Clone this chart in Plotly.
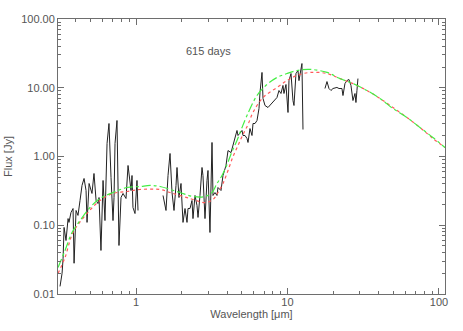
import plotly.graph_objects as go

# Observed spectrum (wavelength in micron, flux in Jy), three segments
opt_wl = [0.315, 0.325, 0.330, 0.335, 0.345, 0.356, 0.361, 0.372, 0.384, 0.390, 0.402, 0.414,
          0.427, 0.440, 0.454, 0.468, 0.475, 0.490, 0.512, 0.528, 0.545, 0.561, 0.570, 0.587,
          0.606, 0.624, 0.644, 0.663, 0.684, 0.705, 0.716, 0.727, 0.749, 0.772, 0.796, 0.821,
          0.859, 0.886, 0.927, 0.941, 0.955, 0.985, 1.015, 1.031]
opt_flux = [0.0129, 0.020, 0.033, 0.093, 0.060, 0.125, 0.110, 0.153, 0.175, 0.028, 0.164, 0.139,
            0.229, 0.379, 0.479, 0.320, 0.110, 0.405, 0.290, 0.566, 0.229, 0.207, 0.253, 0.043,
            0.448, 0.117, 1.55, 3.02, 0.495, 0.117, 0.253, 1.55, 3.34, 0.0508, 0.253, 0.290,
            0.245, 0.740, 0.320, 0.529, 0.181, 0.148, 0.448, 0.164]

ir_wl = [1.508, 1.578, 1.627, 1.677, 1.729, 1.782, 1.837, 1.865, 1.922, 1.982, 2.043, 2.106,
         2.171, 2.204, 2.272, 2.342, 2.378, 2.452, 2.527, 2.566, 2.645, 2.727, 2.768, 2.854,
         2.942, 2.987, 3.079, 3.175, 3.223, 3.322, 3.425, 3.477, 3.640, 3.752, 3.928, 4.049,
         4.239, 4.370, 4.505, 4.642, 4.714, 4.860, 5.010, 5.086, 5.243, 5.405, 5.488, 5.656,
         5.832, 5.921, 6.104, 6.292, 6.486, 6.586, 6.789, 6.893, 7.105, 7.437, 7.666, 7.903,
         8.271, 8.526, 8.789, 9.060, 9.339, 9.483, 9.775, 10.08, 10.23, 10.55, 10.87, 11.04,
         11.38, 11.73, 11.91, 12.28, 12.46, 12.66]
ir_flux = [0.271, 0.164, 0.529, 1.106, 0.299, 0.164, 0.379, 0.692, 0.253, 0.405, 0.110, 0.175,
           0.110, 0.175, 0.175, 0.229, 0.125, 0.271, 0.194, 0.130, 0.271, 0.692, 0.529, 0.125,
           0.448, 0.626, 0.0785, 1.60, 0.271, 0.299, 0.271, 0.354, 0.320, 0.529, 0.740, 1.22,
           1.14, 1.445, 1.89, 2.39, 2.02, 2.16, 2.39, 2.02, 2.02, 1.83, 1.60, 2.55,
           2.02, 3.02, 3.02, 3.34, 4.99, 8.53, 16.7, 6.98, 5.52, 5.16, 5.52, 6.10,
           6.52, 7.21, 9.12, 8.25, 10.8, 8.25, 11.15, 4.37, 12.7, 16.1, 6.52, 5.52,
           16.1, 17.8, 12.7, 19.1, 22.5, 2.47]

fir_wl = [17.68, 18.23, 18.79, 19.37, 19.97, 21.21, 21.88, 22.89, 23.25, 23.96, 24.70, 25.46,
          26.25, 27.06, 27.90, 28.32, 28.75, 29.19]
fir_flux = [9.75, 12.3, 9.75, 9.12, 9.75, 10.1, 9.75, 9.75, 7.71, 11.5, 12.7, 13.2,
            10.8, 6.52, 8.25, 6.10, 9.12, 13.6]

# Model 1 (red dotted)
red_wl = [0.3056, 0.340, 0.384, 0.475, 0.578, 0.705, 0.872, 1.063, 1.440, 1.677, 2.272, 2.854,
          3.223, 3.477, 3.752, 4.049, 4.370, 4.714, 5.086, 5.488, 5.921, 6.893, 8.526, 9.924,
          11.55, 14.08, 18.23, 22.21, 27.06, 33.48, 40.79, 49.71, 61.48, 74.93, 91.28, 109.5]
red_flux = [0.0199, 0.034, 0.0785, 0.148, 0.229, 0.290, 0.31, 0.331, 0.331, 0.299, 0.245, 0.214,
            0.237, 0.299, 0.405, 0.626, 1.0, 1.445, 2.09, 2.92, 4.37, 7.21, 10.1, 12.7,
            15.1, 16.7, 16.1, 13.6, 11.5, 9.12, 6.98, 5.16, 3.69, 2.64, 1.83, 1.35]

# Model 2 (green dash-dot)
grn_wl = [0.3056, 0.340, 0.378, 0.427, 0.497, 0.578, 0.705, 0.872, 1.063, 1.237, 1.440, 1.952,
          2.378, 2.854, 3.175, 3.425, 3.696, 3.988, 4.302, 4.642, 5.010, 5.405, 6.292, 7.324,
          8.526, 9.924, 11.55, 14.08, 18.23, 22.21, 27.06, 33.48, 40.79, 49.71, 61.48, 74.93,
          91.28, 109.5]
grn_flux = [0.0243, 0.043, 0.0785, 0.117, 0.181, 0.245, 0.299, 0.354, 0.366, 0.379, 0.366, 0.299,
            0.262, 0.262, 0.299, 0.405, 0.529, 0.765, 1.18, 1.71, 2.64, 3.95, 7.71, 11.15,
            14.1, 16.1, 17.8, 18.5, 16.7, 13.6, 11.5, 9.12, 6.98, 4.99, 3.69, 2.64,
            1.89, 1.35]

x_tick_vals = [1, 10, 100]
x_tick_text = ["1", "10", "100"]
y_tick_vals = [0.01, 0.1, 1, 10, 100]
y_tick_text = ["0.01", "0.10", "1.00", "10.00", "100.00"]
x_minor_decades = [0.1, 1, 10]
y_minor_decades = [0.01, 0.1, 1, 10]
minor_steps = [2, 3, 4, 5, 6, 7, 8, 9]

label_text = "615 days"
x_title = "Wavelength [μm]"
y_title = "Flux [Jy]"

axis_col = "#6e6e6e"
text_col = "#555555"
font_family = "Liberation Sans, Arial, sans-serif"

fig = go.Figure()
for wl, fl in [(opt_wl, opt_flux), (ir_wl, ir_flux), (fir_wl, fir_flux)]:
    fig.add_trace(go.Scatter(x=wl, y=fl, mode="lines",
                             line=dict(color="#222222", width=1), showlegend=False))
fig.add_trace(go.Scatter(x=red_wl, y=red_flux, mode="lines", line_shape="spline",
                         line=dict(color="#ff5a5a", width=1.2, dash="dot"), showlegend=False))
fig.add_trace(go.Scatter(x=grn_wl, y=grn_flux, mode="lines", line_shape="spline",
                         line=dict(color="#44ee44", width=1.2, dash="dashdot"), showlegend=False))

fig.add_annotation(text=label_text, xref="paper", yref="paper", x=0.388, y=0.913,
                   showarrow=False, font=dict(size=11, color=text_col, family=font_family))


def axis_style(minor_vals):
    return dict(type="log", showgrid=False, zeroline=False, showline=True, linecolor=axis_col,
                linewidth=1, mirror="allticks", ticks="inside", ticklen=6, tickcolor=axis_col,
                tickwidth=1, automargin=False,
                tickfont=dict(size=11, color=text_col, family=font_family),
                minor=dict(ticks="inside", ticklen=3, tickcolor=axis_col, showgrid=False,
                           tickmode="array", tickvals=minor_vals))


x_minor = [d * s for d in x_minor_decades for s in minor_steps]
y_minor = [d * s for d in y_minor_decades for s in minor_steps]

fig.update_xaxes(range=[-0.515, 2.04], tickvals=x_tick_vals, ticktext=x_tick_text,
                 ticklabelstandoff=-2,
                 title=dict(text=x_title, font=dict(size=11, color=text_col, family=font_family),
                            standoff=0),
                 **axis_style(x_minor))
fig.update_yaxes(range=[-2, 2], tickvals=y_tick_vals, ticktext=y_tick_text,
                 title=dict(text=y_title, font=dict(size=11, color=text_col, family=font_family),
                            standoff=6),
                 **axis_style(y_minor))

fig.update_layout(width=463, height=331, margin=dict(l=58, r=18, t=19, b=37),
                  paper_bgcolor="white", plot_bgcolor="white", hovermode=False)

fig.write_html("out.html", config={"displayModeBar": False, "staticPlot": True},
               post_script="document.body.style.margin='0';document.body.style.overflow='hidden';")
